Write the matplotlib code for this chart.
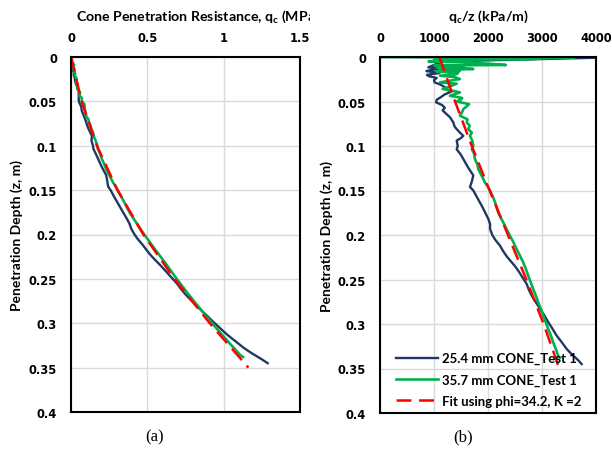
"""
Cone penetration resistance vs depth (a) and q_c/z vs depth (b).
Saves to out.png
"""
import numpy as np
import matplotlib.pyplot as plt
from matplotlib.ticker import FormatStrFormatter
from matplotlib.transforms import Bbox

plt.rcParams['font.family'] = ['Lato', 'DejaVu Sans']
plt.rcParams['font.weight'] = 'bold'

# q_c/z (kPa/m) read against penetration depth (m)
blue_depth = [0.0, 0.0004, 0.005, 0.009, 0.0116, 0.013, 0.0145, 0.0158, 0.018, 0.020,
              0.0215, 0.0235, 0.026, 0.0285, 0.031, 0.034, 0.037, 0.039, 0.042, 0.045,
              0.048, 0.051, 0.054, 0.057, 0.060, 0.064, 0.068, 0.0736, 0.078, 0.081,
              0.085, 0.0886, 0.091, 0.094, 0.0999, 0.1037, 0.110, 0.118, 0.125, 0.133,
              0.140, 0.146, 0.150, 0.158, 0.167, 0.175, 0.182, 0.188, 0.193, 0.200,
              0.205, 0.212, 0.218, 0.224, 0.230, 0.235, 0.241, 0.246, 0.255, 0.262,
              0.268, 0.275, 0.283, 0.290, 0.298, 0.305, 0.313, 0.320, 0.328, 0.334,
              0.339, 0.342, 0.345]
blue_qz = [0, 4300, 1150, 1000, 895, 1150, 950, 860, 1100, 870,
           900, 1050, 1000, 1010, 1120, 1200, 1250, 1320, 1200, 1130,
           1050, 1040, 1150, 1200, 1160, 1230, 1300, 1358, 1380, 1420,
           1480, 1543, 1500, 1420, 1440, 1420, 1500, 1574, 1640, 1728,
           1700, 1666, 1728, 1800, 1883, 1950, 2006, 2040, 2037, 2080,
           2130, 2222, 2280, 2346, 2430, 2500, 2570, 2623, 2716, 2760,
           2808, 2880, 2963, 3040, 3117, 3190, 3271, 3360, 3456, 3550,
           3641, 3690, 3734]

green_depth = [0.0, 0.0003, 0.0015, 0.0026, 0.003, 0.004, 0.005, 0.006, 0.0075, 0.009,
               0.0095, 0.0105, 0.0116, 0.0125, 0.0135, 0.0145, 0.0154, 0.0165, 0.0175, 0.0192,
               0.021, 0.0225, 0.0248, 0.0265, 0.0285, 0.030, 0.033, 0.036, 0.0385, 0.0398,
               0.0436, 0.046, 0.0473, 0.050, 0.053, 0.0586, 0.062, 0.066, 0.070, 0.0736,
               0.077, 0.081, 0.085, 0.0886, 0.094, 0.0999, 0.1037, 0.108, 0.115, 0.120,
               0.126, 0.133, 0.141, 0.145, 0.150, 0.157, 0.163, 0.169, 0.175, 0.181,
               0.186, 0.193, 0.201, 0.208, 0.216, 0.223, 0.231, 0.238, 0.246, 0.253,
               0.261, 0.268, 0.276, 0.283, 0.291, 0.298, 0.306, 0.313, 0.321, 0.328,
               0.336, 0.338]
green_qz = [0, 3600, 3000, 2800, 1000, 1700, 900, 1500, 2000, 2330,
            1010, 1550, 1050, 1500, 1728, 1100, 1480, 1050, 1450, 1420,
            1110, 1380, 1480, 1300, 1110, 1420, 1296, 1160, 1390, 1480,
            1296, 1520, 1510, 1420, 1650, 1543, 1520, 1480, 1620, 1605,
            1660, 1635, 1700, 1666, 1710, 1728, 1698, 1740, 1759, 1800,
            1820, 1880, 1944, 1990, 2037, 2090, 2130, 2160, 2191, 2240,
            2284, 2340, 2407, 2470, 2531, 2590, 2654, 2700, 2746, 2790,
            2839, 2885, 2932, 2980, 3025, 3070, 3117, 3165, 3210, 3255,
            3302, 3333]

fit_depth = [0.0, 0.05, 0.1, 0.15, 0.2, 0.25, 0.3, 0.35]
fit_qz = [1100, 1390, 1700, 2030, 2370, 2710, 3030, 3320]

LABELS = ['25.4 mm CONE_Test 1', '35.7 mm CONE_Test 1', 'Fit using phi=34.2, K =2']
NAVY = '#203864'
GREEN = '#00B050'
RED = '#FF0000'

# q_c (MPa) = (q_c/z) * z / 1000
blue_qc = np.array(blue_qz) * np.array(blue_depth) / 1000.0
green_qc = np.array(green_qz) * np.array(green_depth) / 1000.0
fit_qc = np.array(fit_qz) * np.array(fit_depth) / 1000.0

W, H = 612, 452
fig = plt.figure(figsize=(W / 100, H / 100), dpi=100)
ax1 = fig.add_axes([71 / W, 1 - 413 / H, 229 / W, 355 / H])
ax2 = fig.add_axes([380 / W, 1 - 414 / H, 216 / W, 356 / H])

TICK_FONT = {'family': 'DejaVu Sans', 'weight': 'bold', 'size': 8.3}


def style(ax, xmax, xticks):
    ax.set_ylim(0.4, 0)
    ax.set_xlim(0, xmax)
    ax.set_xticks(xticks)
    ax.set_yticks(np.arange(0, 0.401, 0.05))
    ax.yaxis.set_major_formatter(FormatStrFormatter('%g'))
    ax.xaxis.set_major_formatter(FormatStrFormatter('%g'))
    ax.xaxis.tick_top()
    ax.tick_params(length=0, pad=10)
    ax.tick_params(axis='x', pad=9)
    for lab in ax.get_xticklabels() + ax.get_yticklabels():
        lab.set_fontproperties(TICK_FONT)
    ax.grid(True, color='#d9d9d9', linewidth=1)
    ax.set_axisbelow(True)
    for s in ax.spines.values():
        s.set_linewidth(1.5)
        s.set_color('black')
    ax.set_ylabel('Penetration Depth (z, m)', fontsize=10, fontweight='bold')


style(ax1, 1.5, [0, 0.5, 1, 1.5])
style(ax2, 4000, [0, 1000, 2000, 3000, 4000])
ax1.yaxis.set_label_coords(-0.21, 0.5)
ax2.yaxis.set_label_coords(-0.218, 0.5)

ax1.plot(blue_qc, blue_depth, color=NAVY, lw=1.7)
ax1.plot(green_qc, green_depth, color=GREEN, lw=1.9)
ax1.plot(fit_qc, fit_depth, color=RED, lw=1.8, dashes=(6, 3))

ax2.plot(blue_qz, blue_depth, color=NAVY, lw=1.7, label=LABELS[0])
ax2.plot(green_qz, green_depth, color=GREEN, lw=1.9, label=LABELS[1])
ax2.plot(fit_qz, fit_depth, color=RED, lw=1.8, dashes=(6, 3), label=LABELS[2])

leg = ax2.legend(loc='lower left', bbox_to_anchor=(0.045, 0.0), frameon=False,
                 fontsize=9.5, handlelength=3.2, handletextpad=0.3,
                 labelspacing=0.7, borderaxespad=0.05)

# titles (left one is clipped by the chart edge, as in the original)
t1 = fig.text(76 / W, 1 - 17 / H, 'Cone Penetration Resistance, q$_\\mathregular{c}$ (MPa)',
              ha='left', va='center', fontsize=10.2, fontweight='bold')
t1.set_clip_box(Bbox.from_extents(0, 0, 310, H))
t1.set_clip_on(True)
fig.text(488 / W, 1 - 17 / H, 'q$_\\mathregular{c}$/z (kPa/m)',
         ha='center', va='center', fontsize=10.2, fontweight='bold')

fig.text(155 / W, 1 - 437 / H, '(a)', ha='center', va='center', fontsize=12,
         fontfamily='Liberation Serif', fontweight='normal')
fig.text(463 / W, 1 - 437 / H, '(b)', ha='center', va='center', fontsize=12,
         fontfamily='Liberation Serif', fontweight='normal')

fig.savefig('out.png', dpi=100)
